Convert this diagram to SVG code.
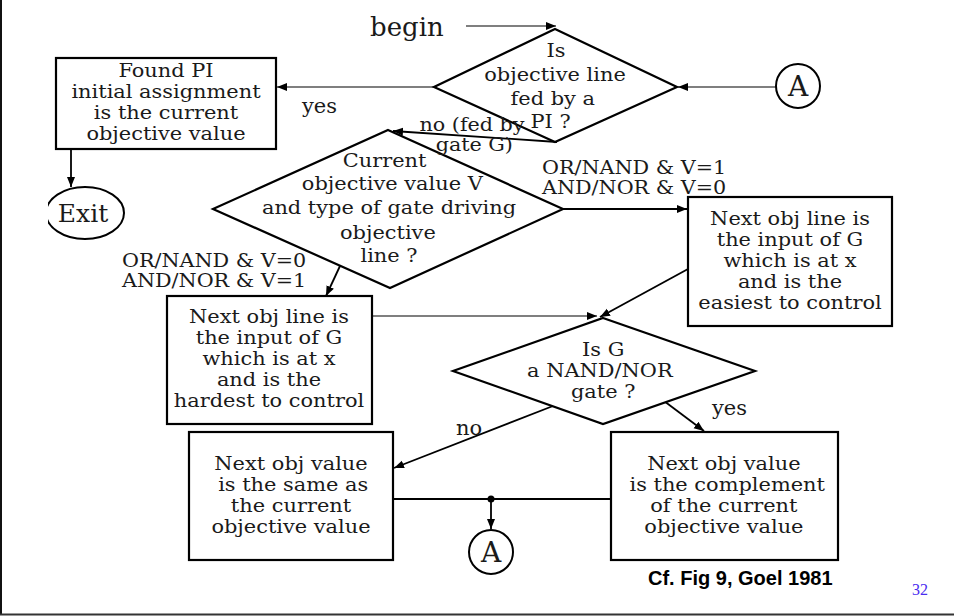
<svg xmlns="http://www.w3.org/2000/svg" width="954" height="616" viewBox="0 0 954 616">
<style>
.t{font-family:"DejaVu Serif","Liberation Serif",serif;font-size:19px;fill:#1a1a1a;text-anchor:middle}
.l{font-family:"DejaVu Serif","Liberation Serif",serif;font-size:18px;fill:#1a1a1a}
.w{font-family:"DejaVu Serif","Liberation Serif",serif;font-size:21px;fill:#1a1a1a}
.s{fill:#fff;stroke:#000;stroke-width:2.2}
.c{fill:none;stroke:#000;stroke-width:1.8}
.c1{fill:none;stroke:#000;stroke-width:1.2}
</style>
<defs>
<marker id="ah" viewBox="0 0 10 10" refX="10" refY="5" markerWidth="10" markerHeight="10" markerUnits="userSpaceOnUse" orient="auto">
<path d="M0,1 L10,5 L0,9 Z" fill="#000"/>
</marker>
<clipPath id="exitclip"><rect x="48" y="180" width="100" height="70"/></clipPath>
</defs>
<rect width="954" height="616" fill="#fff"/>
<line x1="1" y1="0" x2="1" y2="615" stroke="#111" stroke-width="2"/>
<line x1="0" y1="614.5" x2="954" y2="614.5" stroke="#333" stroke-width="2"/>

<g id="connectors">
<line class="c1" x1="466" y1="26" x2="556" y2="26" marker-end="url(#ah)"/>
<line class="c1" x1="776" y1="87" x2="678" y2="87" marker-end="url(#ah)"/>
<line class="c1" x1="434" y1="87" x2="277" y2="87" marker-end="url(#ah)"/>
<line class="c" x1="71" y1="149" x2="71" y2="187" marker-end="url(#ah)"/>
<line class="c" x1="557" y1="142" x2="393" y2="131" marker-end="url(#ah)"/>
<line class="c" x1="563" y1="209" x2="687" y2="209" marker-end="url(#ah)"/>
<line class="c" x1="340" y1="266" x2="326" y2="296" marker-end="url(#ah)"/>
<line class="c1" x1="372" y1="316" x2="597" y2="316" marker-end="url(#ah)"/>
<line class="c" x1="688" y1="269" x2="600" y2="317" marker-end="url(#ah)"/>
<line class="c" x1="553" y1="406" x2="394" y2="468" marker-end="url(#ah)"/>
<line class="c" x1="664" y1="401" x2="704" y2="431" marker-end="url(#ah)"/>
<line class="c" x1="393" y1="499" x2="611" y2="499"/>
<circle cx="491" cy="499" r="3.5" fill="#000"/>
<line class="c" x1="491" y1="499" x2="491" y2="529" marker-end="url(#ah)"/>
</g>

<g id="begin">
<text class="w" x="370" y="36" style="font-size:26px">begin</text>
</g>

<g id="d1">
<polygon class="s" points="555,29 677,87 555,142 434,87"/>
<text class="t" transform="matrix(1.1,0,0,1,-55.5,0)"><tspan x="556" y="57">Is</tspan><tspan x="555" y="81">objective line</tspan><tspan x="553" y="105">fed by a</tspan><tspan x="551" y="128">PI ?</tspan></text>
</g>

<g id="a-top">
<circle cx="798" cy="86" r="22" fill="#fff" stroke="#000" stroke-width="2"/>
<text class="t" x="798" y="96" style="font-size:28px">A</text>
</g>

<g id="foundpi">
<rect class="s" x="56" y="58" width="220" height="91"/>
<text class="t" transform="matrix(1.1,0,0,1,-16.6,0)"><tspan x="166" y="77">Found PI</tspan><tspan x="166" y="98">initial assignment</tspan><tspan x="166" y="119">is the current</tspan><tspan x="166" y="140">objective value</tspan></text>
</g>

<g id="exit">
<ellipse cx="85" cy="213" rx="39" ry="26" fill="#fff" stroke="#000" stroke-width="2" clip-path="url(#exitclip)"/>
<text class="t" x="83" y="222" style="font-size:25px">Exit</text>
</g>

<g id="d2">
<polygon class="s" points="388,130 563,209 390,288 213,209"/>
<text class="t" transform="matrix(1.1,0,0,1,-38.9,0)"><tspan x="385" y="167">Current</tspan><tspan x="392" y="190">objective value V</tspan><tspan x="389" y="214">and type of gate driving</tspan><tspan x="388" y="239">objective</tspan><tspan x="389" y="262">line ?</tspan></text>
</g>

<g id="box-easiest">
<rect class="s" x="688" y="197" width="204" height="129"/>
<text class="t" transform="matrix(1.1,0,0,1,-79,0)"><tspan x="790" y="225">Next obj line is</tspan><tspan x="790" y="246">the input of G</tspan><tspan x="790" y="267">which is at x</tspan><tspan x="790" y="288">and is the</tspan><tspan x="790" y="309">easiest to control</tspan></text>
</g>

<g id="box-hardest">
<rect class="s" x="167" y="296" width="205" height="128"/>
<text class="t" transform="matrix(1.1,0,0,1,-26.9,0)"><tspan x="269" y="323">Next obj line is</tspan><tspan x="269" y="344">the input of G</tspan><tspan x="269" y="365">which is at x</tspan><tspan x="269" y="386">and is the</tspan><tspan x="269" y="407">hardest to control</tspan></text>
</g>

<g id="d3">
<polygon class="s" points="603,318 755,371 603,424 453,371"/>
<text class="t" transform="matrix(1.1,0,0,1,-60.1,0)"><tspan x="603" y="356">Is G</tspan><tspan x="600" y="377">a NAND/NOR</tspan><tspan x="603" y="398">gate ?</tspan></text>
</g>

<g id="box-same">
<rect class="s" x="189" y="432" width="204" height="128"/>
<text class="t" transform="matrix(1.1,0,0,1,-29.1,0)"><tspan x="291" y="470">Next obj value</tspan><tspan x="293" y="491">is the same as</tspan><tspan x="291" y="512">the current</tspan><tspan x="291" y="533">objective value</tspan></text>
</g>

<g id="box-compl">
<rect class="s" x="611" y="432" width="227" height="128"/>
<text class="t" transform="matrix(1.1,0,0,1,-72.5,0)"><tspan x="724" y="470">Next obj value</tspan><tspan x="727" y="491">is the complement</tspan><tspan x="724" y="512">of the current</tspan><tspan x="724" y="533">objective value</tspan></text>
</g>

<g id="a-bottom">
<circle cx="491" cy="552" r="22" fill="#fff" stroke="#000" stroke-width="2"/>
<text class="t" x="491" y="562" style="font-size:28px">A</text>
</g>

<g id="labels">
<text class="w" x="302" y="113">yes</text>
<text class="l" style="text-anchor:middle" transform="matrix(1.15,0,0,1,-70.8,0)"><tspan x="472" y="131">no (fed by</tspan><tspan x="474" y="151">gate G)</tspan></text>
<text class="l" transform="matrix(1.15,0,0,1,-81.3,0)"><tspan x="542" y="174">OR/NAND &amp; V=1</tspan><tspan x="542" y="194">AND/NOR &amp; V=0</tspan></text>
<text class="l" transform="matrix(1.15,0,0,1,-18.3,0)"><tspan x="122" y="267">OR/NAND &amp; V=0</tspan><tspan x="122" y="287">AND/NOR &amp; V=1</tspan></text>
<text class="w" x="712" y="415">yes</text>
<text class="w" x="456" y="435">no</text>
</g>

<g id="caption">
<text x="648" y="585" style="font-family:'Liberation Sans',Arial,sans-serif;font-weight:bold;font-size:20px;fill:#000">Cf. Fig 9, Goel 1981</text>
<text x="912" y="595" style="font-family:'Liberation Serif','Times New Roman',serif;font-size:16px;fill:#4a2cf0">32</text>
</g>
</svg>
